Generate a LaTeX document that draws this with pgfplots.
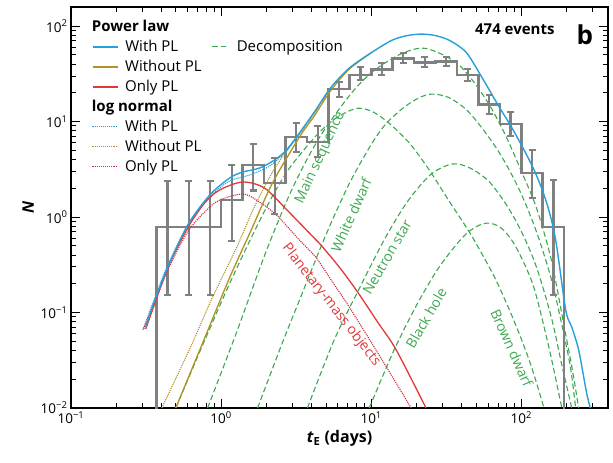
\documentclass[border=0pt]{standalone}
\usepackage{fontspec}
\setmainfont{Open Sans}
\usepackage{pgfplots}
\pgfplotsset{compat=1.18}

\definecolor{cblue}{RGB}{38,160,216}
\definecolor{colive}{RGB}{178,146,38}
\definecolor{cred}{RGB}{222,58,58}
\definecolor{cdred}{RGB}{205,45,65}
\definecolor{cgreen}{RGB}{60,168,80}
\definecolor{cgray}{RGB}{128,128,128}

\pgfplotsset{
  comp/.style={cgreen, line width=1.1pt, dash pattern=on 5.5pt off 3pt, smooth},
}
% legend samples set in front of the entry text
\newcommand\legline[1]{\tikz[baseline=-4.5pt]\draw[#1] (0pt,0pt) -- (25pt,0pt);\hspace{7pt}}
\newcommand\legdash[1]{\tikz[baseline=-4.5pt]\draw[#1] (0pt,0pt) -- (17pt,0pt);\hspace{7pt}}

% binned event counts (left bin edges, const plot)
\pgfplotstableread{
t N
0.3728 0.001
0.3728 0.785
0.5179 0.785
0.7197 0.785
1 1.51
1.3895 3.5
1.9307 2.27
2.6827 6.9
3.7276 6.1
5.1795 21.9
7.1969 30.7
10 35.2
13.895 45.9
19.307 41.3
26.827 42.3
37.276 30.7
51.795 15.2
71.969 9.4
100 2.89
138.95 0.785
193.07 0.785
193.07 0.001
}\histdata

% bin centres with lower and upper uncertainty limits
\pgfplotstableread{
t N lo hi
0.4394 0.785 0.152 2.38
0.6105 0.785 0.152 2.38
0.8483 0.785 0.152 2.38
1.1788 1.51 0.561 3.51
1.6379 3.5 1.9 5.81
2.2758 2.27 1.07 4.15
3.1623 6.9 4.80 9.64
4.3940 6.1 4.25 8.97
6.1054 21.9 18.1 25.9
8.4834 30.7 27.2 37.2
11.788 35.2 30.7 41.0
16.379 45.9 41.0 52.1
22.758 41.3 37.2 47.3
31.623 42.3 38.1 47.3
43.940 30.7 26.5 35.5
61.054 15.2 12.0 18.9
84.834 9.4 7.05 12.6
117.88 2.89 1.58 5.04
163.79 0.785 0.152 2.44
}\errdata

% the same limits as vertical segments
\pgfplotstableread{
t y
0.4394 0.152
0.4394 2.38
nan nan
0.6105 0.152
0.6105 2.38
nan nan
0.8483 0.152
0.8483 2.38
nan nan
1.1788 0.561
1.1788 3.51
nan nan
1.6379 1.9
1.6379 5.81
nan nan
2.2758 1.07
2.2758 4.15
nan nan
3.1623 4.80
3.1623 9.64
nan nan
4.3940 4.25
4.3940 8.97
nan nan
6.1054 18.1
6.1054 25.9
nan nan
8.4834 27.2
8.4834 37.2
nan nan
11.788 30.7
11.788 41.0
nan nan
16.379 41.0
16.379 52.1
nan nan
22.758 37.2
22.758 47.3
nan nan
31.623 38.1
31.623 47.3
nan nan
43.940 26.5
43.940 35.5
nan nan
61.054 12.0
61.054 18.9
nan nan
84.834 7.05
84.834 12.6
nan nan
117.88 1.58
117.88 5.04
nan nan
163.79 0.152
163.79 2.44
}\errseg

\begin{document}
\begin{tikzpicture}
\useasboundingbox (-71pt,-55pt) rectangle (542pt,408pt);
\begin{axis}[
  at={(0pt,0pt)}, anchor=south west,
  scale only axis, width=537pt, height=401pt,
  xmode=log, ymode=log,
  xmin=0.1, xmax=378, ymin=0.01, ymax=158.5,
  xtick={0.1,1,10,100},
  xticklabels={10\textsuperscript{−1},10\textsuperscript{0},10\textsuperscript{1},10\textsuperscript{2}},
  ytick={0.01,0.1,1,10,100},
  yticklabels={10\textsuperscript{−2},10\textsuperscript{−1},10\textsuperscript{0},10\textsuperscript{1},10\textsuperscript{2}},
  minor xtick={0.2,0.3,0.4,0.5,0.6,0.7,0.8,0.9,2,3,4,5,6,7,8,9,20,30,40,50,60,70,80,90,200,300},
  minor ytick={0.02,0.03,0.04,0.05,0.06,0.07,0.08,0.09,0.2,0.3,0.4,0.5,0.6,0.7,0.8,0.9,2,3,4,5,6,7,8,9,20,30,40,50,60,70,80,90},
  tick align=inside,
  major tick length=9pt, minor tick length=5pt,
  every tick/.style={black, line width=1pt},
  axis line style={line width=1.3pt},
  tick label style={font=\fontsize{13.5}{15}\selectfont},
  xlabel={\textbf{\textit{t}\textsubscript{E} (days)}},
  ylabel={\textbf{\textit{N}}},
  label style={font=\fontsize{16}{18}\selectfont},
  unbounded coords=jump,
  legend columns=2,
  legend cell align=left,
  legend style={draw=none, fill=none,
    at={(axis description cs:0.033,0.972)}, anchor=north west,
    font=\fontsize{15}{17}\selectfont,
    row sep=6pt, column sep=0pt,
    nodes={inner sep=0pt, text height=11pt, text depth=3pt},
    /tikz/every odd column/.append style={column sep=0pt},
    /tikz/every even column/.append style={column sep=10pt}},
]

% stellar-remnant decomposition
\addplot[comp, forget plot] coordinates {
(0.4989,0.01) (0.7586,0.04677) (1.122,0.1905) (1.585,0.6026) (2.198,1.660)
(2.818,3.162) (3.548,5.012) (4.467,7.586) (5.623,10.47) (7.079,12.88)
(8.318,13.80) (10,12.88) (11.83,10.96) (14.13,8.710) (17.86,6.026)
(21.38,4.169) (25.41,2.818) (32.96,1.479) (44.77,0.7079) (56.23,0.3802)
(67.76,0.2188) (83.18,0.1072) (100.7,0.05129) (117.5,0.02630) (136.8,0.01202) (141.3,0.01)};
\addplot[comp, forget plot] coordinates {
(0.8128,0.01) (1.259,0.06026) (1.995,0.4365) (2.985,1.995) (4.467,6.607)
(7.145,18.62) (10.16,33.11) (15.35,50.12) (21.48,58.88) (28.18,52.48)
(38.02,39.81) (50.12,23.99) (63.10,13.80) (79.43,6.918) (100,3.020)
(125.9,1.259) (158.5,0.3548) (190.5,0.07943) (218.8,0.02512) (241.0,0.01)};
\addplot[comp, forget plot] coordinates {
(1.750,0.01) (2.512,0.04467) (3.327,0.1349) (5.012,0.6607) (7.145,2.239)
(10,5.754) (12.59,9.550) (16.56,14.13) (20.89,17.78) (25.41,19.41)
(33.11,17.78) (44.67,12.59) (63.10,6.310) (79.43,3.548) (100,1.738)
(125.9,0.7079) (158.5,0.2239) (190.5,0.06310) (213.8,0.02512) (230.1,0.01)};
\addplot[comp, forget plot] coordinates {
(3.758,0.01) (5.623,0.05012) (8.318,0.1778) (12.59,0.6310) (17.78,1.514)
(25.12,2.818) (34.51,3.589) (44.67,3.311) (60.26,2.399) (79.43,1.349)
(100,0.7079) (125.9,0.3020) (158.5,0.08913) (186.2,0.02818) (216.8,0.01)};
\addplot[comp, forget plot] coordinates {
(9.705,0.01) (14.13,0.03981) (19.95,0.1175) (28.18,0.2951) (40.27,0.6026)
(50.12,0.7943) (60.81,0.8650) (74.13,0.7586) (91.83,0.4898) (120.2,0.1905)
(152.4,0.04365) (177.8,0.01413) (186.2,0.01)};

% histogram with error bars
\addplot[const plot, cgray, line width=2.6pt, forget plot] table[x=t, y=N] {\histdata};
\addplot[cgray, line width=2.2pt, forget plot] table[x=t, y=y] {\errseg};
\addplot[only marks, mark=-, mark size=3.5pt, mark options={draw=cgray, line width=2.2pt}, forget plot]
  table[x=t, y=lo] {\errdata};
\addplot[only marks, mark=-, mark size=3.5pt, mark options={draw=cgray, line width=2.2pt}, forget plot]
  table[x=t, y=hi] {\errdata};

% log-normal models
\addplot[cdred, line width=1.1pt, densely dotted, smooth, forget plot] coordinates {
(0.305,0.0671) (0.4416,0.279) (0.5984,0.697) (0.776,1.127) (0.977,1.507)
(1.390,1.742) (1.722,1.507) (2.339,1.050) (3.327,0.574) (4.315,0.372)
(5.5,0.211) (7.145,0.114) (11.83,0.0318) (18.45,0.01)};
\addplot[colive, line width=1.1pt, densely dotted, smooth, forget plot] coordinates {
(0.4027,0.01) (0.6310,0.04467) (0.8650,0.1380) (1.259,0.4677) (1.660,1.259)
(2.198,2.951) (2.723,4.898) (3.327,7.4) (4.178,12.3) (5.346,22.2)};
\addplot[cblue, line width=1.1pt, densely dotted, smooth, forget plot] coordinates {
(0.3006,0.06561) (0.3614,0.1419) (0.4416,0.3141) (0.5984,0.8054) (0.8395,1.618)
(1.138,2.382) (1.545,2.754) (2.099,3.420) (2.723,4.898) (3.327,7.586) (4.178,12.56)};

% power-law models
\addplot[cred, line width=1.3pt, smooth, forget plot] coordinates {
(0.3148,0.0671) (0.4416,0.292) (0.5984,0.767) (0.776,1.403) (0.977,1.919)
(1.390,2.328) (1.945,2.014) (2.723,1.202) (4.055,0.631) (4.721,0.490)
(6.310,0.282) (8.318,0.155) (11.0,0.080) (14.66,0.0407) (23.17,0.01)};
\addplot[colive, line width=1.3pt, smooth, forget plot] coordinates {
(0.4989,0.01) (0.7586,0.04920) (1.122,0.2188) (1.585,0.7278) (2.198,2.270)
(3.327,6.887) (4.178,11.48) (5.346,20.89) (7.145,35.48) (10.16,53.46)};
\addplot[cblue, line width=1.4pt, smooth, forget plot] coordinates {
(0.3148,0.07047) (0.3614,0.1352) (0.4416,0.2992) (0.5984,0.8241) (0.8395,1.698)
(1.138,2.559) (1.390,2.958) (1.803,3.258) (2.265,3.954) (2.723,5.035)
(3.327,7.586) (4.178,12.56) (5.346,22.44) (7.145,36.31) (10.16,53.46)
(13.80,71.29) (17.38,79.6) (21.48,82.41) (26.3,80.0) (32.96,71.29)
(42.76,53.46) (53.83,30.20) (70.79,14.45) (89.13,7.943) (121.1,3.162)
(147.6,1.403) (169.4,0.5741) (197.7,0.1062) (216.8,0.07047) (241.0,0.04046)
(272.3,0.01435) (288.4,0.01)};

% legend: two columns, sample lines set with the entry text
\addlegendimage{empty legend}\addlegendentry{\textbf{Power law}}
\addlegendimage{empty legend}\addlegendentry{}
\addlegendimage{empty legend}\addlegendentry{\legline{draw=cblue, line width=1.4pt}With PL}
\addlegendimage{empty legend}\addlegendentry{\legdash{draw=cgreen, line width=1.1pt, dash pattern=on 5.5pt off 3pt}Decomposition}
\addlegendimage{empty legend}\addlegendentry{\legline{draw=colive, line width=1.3pt}Without PL}
\addlegendimage{empty legend}\addlegendentry{}
\addlegendimage{empty legend}\addlegendentry{\legline{draw=cred, line width=1.3pt}Only PL}
\addlegendimage{empty legend}\addlegendentry{}
\addlegendimage{empty legend}\addlegendentry{\textbf{log normal}}
\addlegendimage{empty legend}\addlegendentry{}
\addlegendimage{empty legend}\addlegendentry{\legline{draw=cblue, line width=1.1pt, densely dotted}With PL}
\addlegendimage{empty legend}\addlegendentry{}
\addlegendimage{empty legend}\addlegendentry{\legline{draw=colive, line width=1.1pt, densely dotted}Without PL}
\addlegendimage{empty legend}\addlegendentry{}
\addlegendimage{empty legend}\addlegendentry{\legline{draw=cdred, line width=1.1pt, densely dotted}Only PL}
\addlegendimage{empty legend}\addlegendentry{}

% curve annotations
\begin{scope}[font=\fontsize{14}{16}\selectfont]
\node[cgreen, rotate=65] at (axis cs:4.58,4.15) {Main sequence};
\node[cgreen, rotate=66] at (axis cs:7.36,1.05) {White dwarf};
\node[cgreen, rotate=60] at (axis cs:12.76,0.381) {Neutron star};
\node[cgreen, rotate=60] at (axis cs:23.2,0.0875) {Black hole};
\node[cgreen, rotate=-66] at (axis cs:86.5,0.0425) {Brown dwarf};
\node[cred, rotate=-52] at (axis cs:5.42,0.12) {Planetary-mass objects};
\end{scope}
\node[anchor=east, font=\bfseries\fontsize{15}{17}\selectfont] at (axis description cs:0.907,0.945) {474 events};
\node[font=\bfseries\fontsize{26}{28}\selectfont] at (axis description cs:0.957,0.930) {b};
\end{axis}
\end{tikzpicture}
\end{document}
